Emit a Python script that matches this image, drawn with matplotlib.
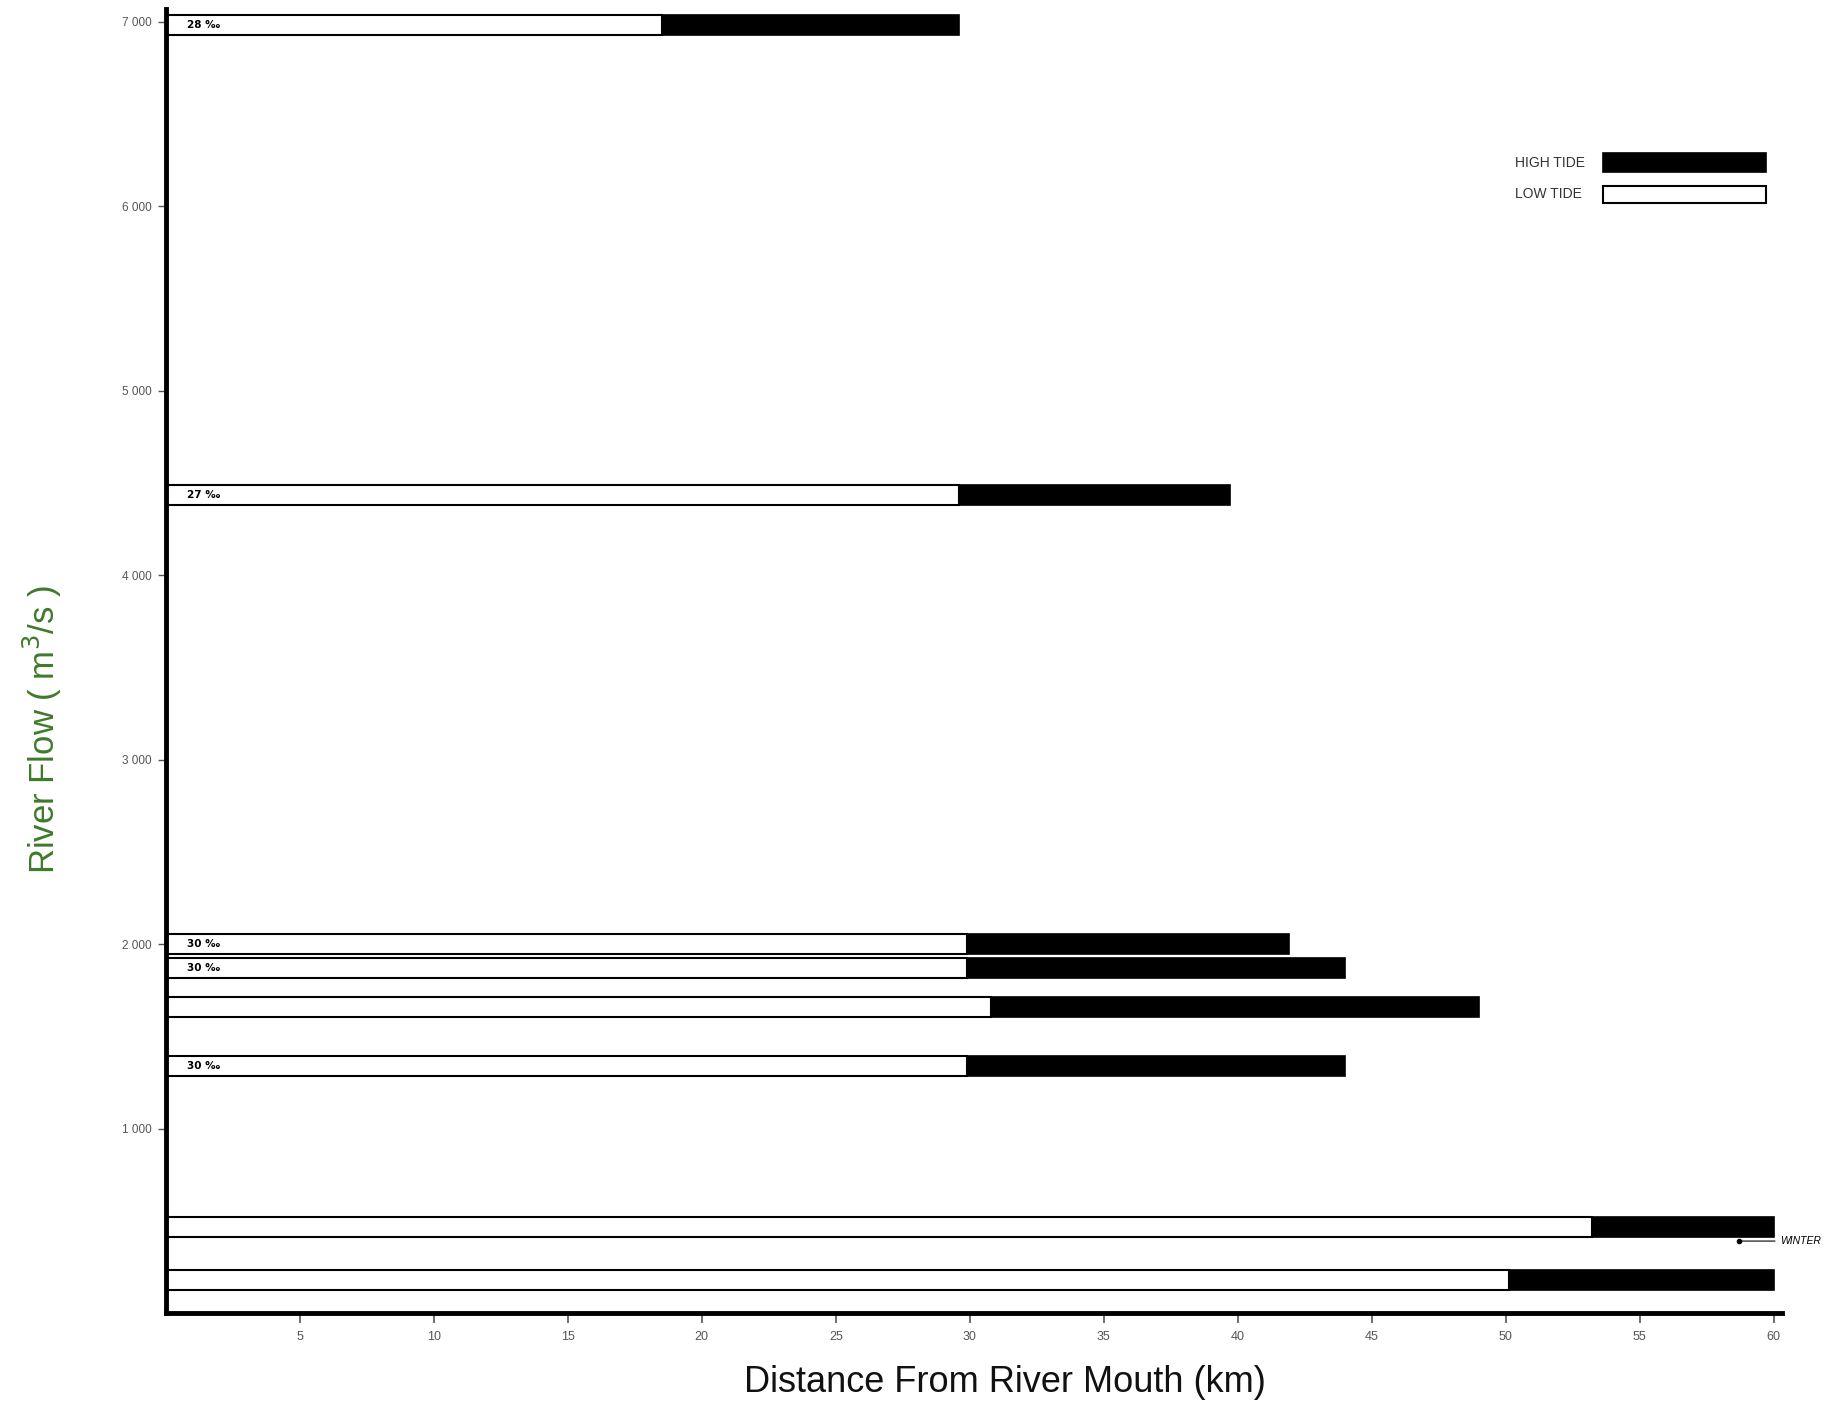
import numpy as np
import matplotlib
matplotlib.use('Agg')
import matplotlib.pyplot as plt
from matplotlib.patches import Rectangle

# river flow (m3/s) for each observation
flow = [6980, 4435, 2000, 1870, 1660, 1340, 465, 180]
# salt intrusion length (km) at low and high tide
low_tide = [18.5, 29.6, 29.9, 29.9, 30.8, 29.9, 53.2, 50.1]
high_tide = [29.6, 39.7, 41.9, 44.0, 49.0, 44.0, 60.0, 60.0]
salinity = ['28 \u2030', '27 \u2030', '30 \u2030', '30 \u2030', '', '30 \u2030', '', '']

x_ticks = [5, 10, 15, 20, 25, 30, 35, 40, 45, 50, 55, 60]
y_ticks = [1000, 2000, 3000, 4000, 5000, 6000, 7000]
y_labels = ['1 000', '2 000', '3 000', '4 000', '5 000', '6 000', '7 000']

winter_xy = (58.7, 390)

plt.rcParams['font.family'] = ['Liberation Sans', 'DejaVu Sans']

fig = plt.figure(figsize=(18.45, 14.04), dpi=100)
ax = fig.add_axes([0.0898, 0.0648, 0.876, 0.929])

bar_h = 110
ax.barh(flow, high_tide, height=bar_h, color='black', edgecolor='black', linewidth=1.2, zorder=2)
ax.barh(flow, low_tide, height=bar_h, color='white', edgecolor='black', linewidth=1.5, zorder=3)

for y, s in zip(flow, salinity):
    if s:
        ax.text(0.8, y, s, fontsize=7.5, fontweight='bold', va='center', ha='left',
                family=['DejaVu Sans'], zorder=4)

# winter marker
ax.plot([winter_xy[0]], [winter_xy[1]], 'o', color='black', markersize=3, clip_on=False, zorder=4)
ax.annotate('WINTER', xy=winter_xy, xytext=(60.25, winter_xy[1]), fontsize=7.5, style='italic',
            va='center', ha='left', annotation_clip=False,
            arrowprops=dict(arrowstyle='-', color='black', lw=0.8, shrinkA=2, shrinkB=0))

ax.set_xlim(0, 60.3)
ax.set_ylim(0, 7070)

for side in ['top', 'right']:
    ax.spines[side].set_visible(False)
for side in ['left', 'bottom']:
    ax.spines[side].set_linewidth(3.5)
    ax.spines[side].set_zorder(6)

ax.set_xticks(x_ticks)
ax.set_xticklabels([str(v) for v in x_ticks])
ax.set_yticks(y_ticks)
ax.set_yticklabels(y_labels)
ax.tick_params(axis='x', direction='out', length=7, width=1.2, labelsize=9, colors='#555555', pad=6)
ax.tick_params(axis='y', direction='out', length=6, width=1.0, labelsize=8.5, colors='#555555', pad=4)
for t in ax.get_xticklines() + ax.get_yticklines():
    t.set_color('black')

ax.set_xlabel('Distance From River Mouth (km)', fontsize=26, color='#111111', va='center')
ax.xaxis.set_label_coords(0.519, -0.053)
ax.set_ylabel('River Flow ( m$^3$/s )', fontsize=25, color='#3f7a2a', va='center')
ax.yaxis.set_label_coords(-0.076, 0.447)

# legend drawn as boxes
ax.add_patch(Rectangle((0.889, 0.875), 0.101, 0.014, transform=ax.transAxes,
                       facecolor='black', edgecolor='black', lw=1.2, clip_on=False))
ax.add_patch(Rectangle((0.889, 0.851), 0.101, 0.013, transform=ax.transAxes,
                       facecolor='white', edgecolor='black', lw=1.5, clip_on=False))
ax.text(0.878, 0.882, 'HIGH TIDE', transform=ax.transAxes, fontsize=10, color='#333333',
        ha='right', va='center')
ax.text(0.876, 0.858, 'LOW TIDE', transform=ax.transAxes, fontsize=10, color='#333333',
        ha='right', va='center')

fig.savefig('out.png', dpi=100, facecolor='white')
